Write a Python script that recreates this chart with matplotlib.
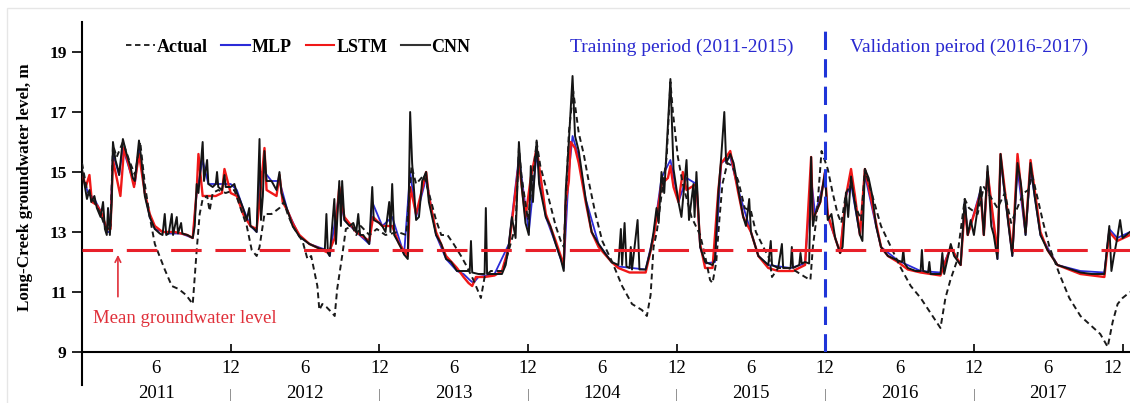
import matplotlib
matplotlib.use("Agg")
import matplotlib.pyplot as plt
from matplotlib.lines import Line2D
from matplotlib.patches import Rectangle
import matplotlib.transforms as mtransforms

plt.rcParams['font.family'] = ['Liberation Serif', 'DejaVu Serif']

# --- data: (month index since Jan 2011, groundwater level in m)
actual = [(0.0, 15.3), (0.4, 14.4), (1.0, 14.0), (1.5, 13.6), (2.0, 13.0), (2.3, 13.2), (2.5, 15.9),
          (2.8, 15.5), (3.3, 16.0), (3.8, 15.4), (4.27, 14.9), (4.7, 16.0), (5.07, 14.6), (5.47, 13.5),
          (5.88, 12.6), (6.68, 11.75), (7.25, 11.2), (7.8, 11.1), (8.4, 10.9), (8.94, 10.6), (9.26, 12.4),
          (9.5, 13.6), (9.74, 14.1), (10.1, 14.2), (10.3, 13.7), (10.55, 14.3), (11.0, 14.4), (11.6, 14.3),
          (12.3, 14.4), (12.72, 13.9), (13.3, 13.2), (13.7, 12.4), (14.1, 12.2), (14.33, 12.5), (14.73, 13.6),
          (15.3, 13.6), (15.94, 13.8), (16.3, 14.0), (16.6, 13.6), (17.0, 13.2), (17.55, 12.85), (17.8, 12.7),
          (18.2, 12.1), (18.5, 12.2), (19.0, 11.2), (19.16, 10.4), (19.4, 10.6), (19.73, 10.5), (20.2, 10.3),
          (20.4, 10.2), (20.6, 11.1), (21.0, 12.2), (21.3, 13.1), (21.8, 13.2), (22.14, 12.9), (22.5, 13.2),
          (23.2, 12.9), (23.8, 13.1), (24.5, 12.9), (25.5, 13.0), (26.17, 12.9), (26.6, 15.2), (26.97, 14.6),
          (27.6, 14.9), (28.0, 14.3), (28.58, 13.4), (29.0, 12.9), (29.5, 12.9), (30.0, 12.6), (30.6, 12.2),
          (31.0, 11.9), (31.6, 11.4), (32.0, 11.0), (32.2, 10.8), (32.5, 11.5), (33.0, 11.7), (34.0, 11.7),
          (34.46, 12.4), (35.0, 13.2), (35.27, 15.8), (35.5, 14.8), (36.0, 13.4), (36.7, 16.0), (37.0, 15.2),
          (37.44, 14.5), (38.24, 13.2), (38.65, 12.7), (38.9, 12.5), (39.05, 14.0), (39.3, 16.3), (39.65, 17.7),
          (40.1, 16.3), (40.5, 15.6), (40.9, 14.7), (41.45, 13.6), (42.0, 12.7), (42.8, 12.0), (43.6, 11.2),
          (44.4, 10.6), (45.2, 10.4), (45.6, 10.2), (45.9, 10.9), (46.14, 12.5), (46.4, 13.0), (46.8, 14.3),
          (47.2, 15.5), (47.5, 18.0), (47.7, 17.0), (48.1, 15.5), (48.5, 14.6), (49.2, 13.5), (49.9, 12.9),
          (50.3, 12.2), (50.7, 11.4), (50.9, 11.3), (51.2, 12.0), (51.45, 13.4), (51.7, 14.6), (52.1, 15.3),
          (52.5, 15.2), (52.98, 14.7), (53.5, 13.8), (54.0, 13.7), (54.4, 13.0), (55.0, 12.5), (55.5, 12.1),
          (55.7, 11.5), (56.2, 11.8), (57.0, 11.8), (57.6, 11.7), (58.37, 11.5), (58.8, 11.4), (59.0, 12.5),
          (59.3, 13.5), (59.7, 15.7), (60.2, 15.1), (60.6, 14.3), (61.0, 13.6), (61.3, 13.3), (61.67, 14.3),
          (62.1, 14.6), (62.5, 13.8), (62.9, 13.4), (63.2, 15.1), (63.6, 14.5), (64.5, 13.2), (65.3, 12.5),
          (66.1, 11.8), (66.9, 11.2), (67.7, 10.8), (68.5, 10.3), (69.3, 9.8), (69.7, 10.8), (70.1, 11.4),
          (70.6, 12.0), (71.26, 14.1), (71.6, 13.8), (72.3, 13.6), (72.8, 14.5), (73.3, 14.2), (73.9, 13.8),
          (74.5, 14.3), (75.0, 13.3), (75.5, 13.8), (76.0, 14.3), (76.4, 14.4), (76.7, 14.9), (77.1, 14.2),
          (77.6, 13.3), (78.1, 12.5), (78.9, 11.6), (79.7, 10.8), (80.6, 10.2), (81.4, 9.9), (82.2, 9.6),
          (82.8, 9.17), (83.2, 10.0), (83.6, 10.6), (84.0, 10.8), (84.6, 11.0)]

mlp = [(0.0, 14.9), (0.5, 14.3), (1.0, 14.1), (1.5, 13.7), (2.0, 13.0), (2.25, 13.0), (2.5, 15.6), (3.0, 14.9),
       (3.3, 15.8), (3.9, 15.0), (4.27, 14.6), (4.6, 15.8), (5.07, 14.3), (5.47, 13.5), (5.88, 13.1), (7.0, 12.95),
       (8.0, 12.95), (8.94, 12.8), (9.26, 14.3), (9.74, 15.4), (10.2, 14.6), (11.0, 14.6), (12.0, 14.6),
       (12.5, 14.4), (13.0, 13.8), (13.6, 13.2), (14.1, 13.0), (14.33, 15.0), (14.73, 15.0), (15.3, 14.7),
       (15.94, 14.7), (16.6, 13.7), (17.55, 12.85), (18.36, 12.6), (19.73, 12.4), (20.0, 12.2), (20.77, 14.3),
       (21.18, 13.4), (22.14, 13.0), (23.19, 12.6), (23.43, 14.0), (24.24, 13.2), (25.04, 13.5), (26.0, 12.25),
       (26.49, 15.0), (26.97, 13.5), (27.78, 14.8), (28.58, 12.9), (29.39, 12.1), (30.27, 11.7), (30.8, 11.6),
       (31.3, 11.4), (31.6, 11.3), (32.0, 11.5), (33.3, 11.6), (34.46, 12.6), (35.27, 15.5), (36.07, 13.0),
       (36.7, 15.6), (37.44, 13.5), (38.24, 12.6), (38.89, 11.8), (39.3, 15.0), (39.6, 16.2), (40.1, 15.5),
       (40.66, 14.1), (41.7, 12.6), (42.75, 12.0), (43.3, 11.85), (45.5, 11.75), (46.14, 12.9), (46.78, 14.8),
       (47.5, 15.4), (48.15, 14.0), (48.8, 14.8), (49.6, 14.6), (49.9, 12.5), (50.3, 11.95), (51.1, 12.0),
       (51.6, 15.3), (52.33, 15.5), (52.98, 14.4), (54.0, 13.0), (54.6, 12.2), (55.4, 11.9), (57.2, 11.8),
       (58.37, 11.95), (58.86, 14.8), (59.18, 13.6), (59.98, 14.8), (60.2, 13.5), (60.8, 12.8), (61.2, 12.3),
       (61.67, 14.2), (62.08, 14.6), (62.8, 12.9), (63.2, 14.9), (64.1, 13.2), (64.5, 12.5), (65.86, 12.05),
       (67.7, 11.7), (69.3, 11.65), (70.13, 12.5), (70.93, 11.9), (71.26, 14.0), (71.5, 12.9), (72.54, 14.4),
       (72.8, 12.9), (73.1, 15.0), (73.9, 12.1), (74.15, 15.4), (75.1, 12.2), (75.52, 15.1), (76.17, 12.9),
       (76.57, 15.1), (77.37, 12.9), (78.74, 11.9), (80.6, 11.7), (82.53, 11.65), (82.93, 13.1), (83.57, 12.8),
       (84.6, 13.0)]

lstm = [(0.0, 15.0), (0.3, 14.5), (0.6, 14.9), (0.8, 14.0), (1.2, 13.9), (1.6, 13.6), (2.0, 13.1), (2.3, 13.1),
        (2.5, 15.4), (2.9, 14.6), (3.1, 14.2), (3.4, 15.8), (3.8, 15.2), (4.2, 14.5), (4.6, 15.6), (5.07, 14.3),
        (5.47, 13.6), (5.88, 13.2), (6.5, 13.0), (7.5, 13.0), (8.5, 12.9), (8.94, 12.8), (9.26, 14.4),
        (9.4, 15.6), (9.74, 14.2), (10.2, 14.2), (10.8, 14.2), (11.3, 14.3), (11.5, 15.1), (12.0, 14.3),
        (12.5, 14.2), (13.0, 13.6), (13.6, 13.2), (14.1, 13.1), (14.33, 14.0), (14.73, 15.8), (14.9, 14.4),
        (15.3, 14.3), (15.7, 14.2), (15.94, 14.9), (16.2, 14.0), (16.6, 13.7), (17.0, 13.3), (17.55, 12.9),
        (18.36, 12.6), (19.16, 12.45), (19.9, 12.3), (20.4, 12.8), (20.77, 14.5), (21.18, 13.5), (22.14, 13.0),
        (23.19, 12.7), (23.5, 13.5), (24.24, 13.2), (25.04, 13.2), (25.6, 12.6), (26.3, 12.2), (26.5, 14.5),
        (26.97, 13.6), (27.5, 14.5), (27.78, 15.0), (28.0, 14.2), (28.58, 13.0), (29.39, 12.2), (30.27, 11.8),
        (30.8, 11.5), (31.2, 11.3), (31.5, 11.2), (31.8, 11.5), (32.5, 11.5), (33.3, 11.55), (33.9, 11.7),
        (34.46, 12.5), (35.27, 15.3), (35.8, 13.5), (36.23, 14.8), (36.7, 15.8), (37.44, 13.6), (38.24, 12.7),
        (38.89, 11.9), (39.05, 14.0), (39.3, 14.7), (39.45, 16.0), (39.8, 15.8), (40.1, 15.3), (40.66, 14.0),
        (41.14, 13.0), (41.7, 12.5), (42.75, 12.0), (43.3, 11.8), (44.2, 11.65), (45.5, 11.65), (46.14, 12.8),
        (46.78, 14.6), (47.3, 14.8), (47.5, 15.2), (47.75, 14.5), (48.15, 14.0), (48.5, 15.0), (48.8, 14.4),
        (49.6, 14.6), (49.9, 12.6), (50.3, 11.8), (50.9, 11.8), (51.37, 14.4), (51.6, 15.3), (52.0, 15.5),
        (52.33, 15.7), (52.98, 14.3), (53.38, 13.5), (54.0, 13.0), (54.6, 12.2), (55.4, 11.8), (56.2, 11.7),
        (57.4, 11.7), (58.37, 11.9), (58.86, 15.5), (59.0, 13.4), (59.6, 14.0), (59.98, 15.0), (60.2, 13.6),
        (60.8, 12.8), (61.2, 12.3), (61.67, 14.2), (62.08, 15.1), (62.4, 14.2), (62.8, 12.9), (63.2, 15.1),
        (63.5, 14.5), (64.1, 13.3), (64.5, 12.5), (65.06, 12.2), (65.86, 12.0), (66.67, 11.75), (67.7, 11.65),
        (69.3, 11.55), (70.13, 12.5), (70.93, 11.9), (71.26, 13.8), (71.5, 12.9), (72.54, 14.3), (72.8, 12.9),
        (73.1, 15.0), (73.9, 12.3), (74.15, 15.6), (75.1, 12.3), (75.52, 15.6), (76.17, 13.0), (76.57, 15.4),
        (77.37, 13.0), (77.94, 12.4), (78.74, 11.9), (80.6, 11.6), (82.53, 11.5), (82.93, 13.0), (83.57, 12.7),
        (84.6, 12.9)]

cnn = [(0.0, 15.1), (0.2, 14.6), (0.4, 14.1), (0.6, 14.4), (0.75, 14.0), (1.0, 14.2), (1.2, 13.8), (1.5, 13.5),
       (1.7, 14.0), (1.85, 13.1), (2.0, 12.9), (2.1, 13.8), (2.25, 12.9), (2.4, 14.0), (2.5, 16.0), (2.7, 15.4),
       (2.9, 15.1), (3.0, 14.9), (3.3, 16.1), (3.6, 15.6), (3.9, 15.2), (4.1, 14.8), (4.27, 14.7), (4.6, 16.05),
       (4.8, 15.4), (5.07, 14.2), (5.47, 13.5), (5.88, 13.1), (6.28, 12.95), (6.5, 12.9), (6.68, 13.6),
       (6.8, 12.9), (7.0, 12.95), (7.25, 13.6), (7.35, 12.9), (7.65, 13.5), (7.75, 12.95), (8.0, 13.3),
       (8.1, 12.95), (8.5, 12.9), (8.94, 12.8), (9.1, 13.2), (9.26, 14.6), (9.4, 14.3), (9.74, 16.0),
       (9.85, 14.7), (10.1, 15.4), (10.2, 14.6), (10.55, 14.5), (10.8, 14.6), (10.9, 15.0), (11.0, 14.5),
       (11.3, 14.4), (11.5, 14.9), (11.6, 14.5), (12.0, 14.5),
       (12.3, 14.6), (12.5, 14.3), (12.72, 14.1), (13.0, 13.8), (13.3, 13.4), (13.5, 13.8), (13.6, 13.2),
       (13.9, 13.1), (14.1, 13.0), (14.33, 16.1), (14.45, 13.4), (14.6, 14.2), (14.73, 15.7), (14.9, 14.7),
       (15.3, 14.7), (15.7, 14.4), (15.94, 15.0), (16.1, 14.3), (16.6, 13.7), (17.0, 13.2), (17.55, 12.85),
       (18.36, 12.6), (19.16, 12.45), (19.6, 12.4), (19.73, 13.6), (19.85, 12.3), (20.0, 12.2), (20.37, 14.1),
       (20.5, 12.6), (20.77, 14.7), (20.9, 13.2), (21.0, 14.7), (21.18, 13.4), (21.6, 13.2), (21.9, 13.3),
       (22.14, 13.0), (22.3, 13.6), (22.45, 12.9), (22.7, 12.9), (23.19, 12.6), (23.43, 14.5), (23.55, 13.4),
       (24.0, 13.3), (24.24, 13.2),
       (24.5, 13.0), (24.8, 14.0), (24.9, 13.0), (25.04, 14.6), (25.2, 12.9), (25.6, 12.6), (26.0, 12.25),
       (26.3, 12.1), (26.49, 17.0), (26.65, 15.3), (26.97, 13.4), (27.2, 13.5), (27.46, 14.7), (27.78, 15.0),
       (28.0, 14.0), (28.58, 12.9), (29.0, 12.6), (29.39, 12.1), (29.8, 12.0), (30.27, 11.7), (30.8, 11.7),
       (31.3, 11.7), (31.4, 12.7), (31.5, 11.65), (32.0, 11.6), (32.5, 11.6), (32.6, 13.8), (32.7, 11.6),
       (33.3, 11.6), (33.9, 11.6), (34.2, 11.9), (34.46, 12.6), (34.7, 13.5), (35.0, 12.8), (35.27, 16.0),
       (35.5, 14.5), (35.8, 13.3), (36.07, 12.9), (36.23, 15.2), (36.4, 14.0), (36.7, 16.05), (36.9, 14.6),
       (37.44, 13.5), (37.8, 13.2), (38.24, 12.6), (38.65, 12.1), (38.89, 11.7), (39.05, 14.4), (39.3, 16.0),
       (39.6, 18.2), (39.8, 16.2), (40.1, 15.7),
       (40.66, 14.1), (41.14, 13.0), (41.7, 12.6), (42.2, 12.3), (42.75, 12.0), (43.3, 11.9), (43.5, 13.1),
       (43.6, 11.9), (43.8, 13.3), (43.95, 11.85), (44.2, 11.8), (44.3, 12.5), (44.4, 11.75), (44.85, 13.4),
       (45.0, 11.75), (45.5, 11.75), (45.9, 12.4), (46.14, 13.0), (46.38, 13.8), (46.55, 13.3), (46.78, 15.0),
       (47.0, 14.3), (47.5, 18.1), (47.75, 15.1), (48.15, 14.0), (48.39, 13.5), (48.8, 15.4), (49.0, 13.4),
       (49.36, 14.6), (49.45, 13.5), (49.6, 15.0), (49.9, 12.5), (50.3, 12.0), (50.9, 11.9), (51.1, 12.1),
       (51.37, 14.3), (51.6, 15.5), (51.85, 17.0), (52.0, 15.3), (52.33, 15.6), (52.6, 15.3), (52.98, 14.4),
       (53.38, 13.5), (53.6, 13.2), (53.86, 14.1), (54.0, 13.0), (54.6, 12.2), (55.4, 11.9), (55.6, 12.7),
       (55.7, 11.9), (56.2, 11.8), (56.5, 12.6), (56.6, 11.8), (57.2, 11.8), (57.3, 12.5), (57.4, 11.8),
       (57.9, 11.9), (58.0, 12.3), (58.1, 11.95), (58.37, 12.0), (58.7, 11.95), (58.86, 15.5), (59.0, 13.2),
       (59.18, 13.6), (59.6, 14.0), (59.98, 15.0), (60.2, 13.4),
       (60.5, 13.6), (60.8, 12.8), (61.2, 12.3), (61.4, 12.5), (61.67, 14.3), (61.85, 13.5), (62.08, 14.85),
       (62.4, 13.9), (62.8, 12.9), (63.0, 12.7), (63.2, 15.1), (63.5, 14.8), (63.8, 14.2), (64.1, 13.2),
       (64.5, 12.5), (65.06, 12.2), (65.86, 12.05), (66.2, 12.0), (66.3, 12.4), (66.4, 11.95), (66.67, 11.8),
       (67.3, 11.7), (67.7, 11.7), (67.8, 12.4), (67.9, 11.7), (68.3, 11.65), (68.4, 12.0), (68.5, 11.6),
       (69.3, 11.6), (69.45, 12.3), (69.6, 11.6), (70.13, 12.6), (70.4, 12.2), (70.93, 11.9), (71.26, 14.1),
       (71.5, 12.9), (71.74, 13.4), (72.0, 12.9), (72.2, 13.5), (72.54, 14.5), (72.8, 12.9), (73.1, 15.2),
       (73.4, 13.2), (73.6, 12.9), (73.9, 12.1), (74.15, 15.6), (74.4, 14.6), (74.8, 13.2), (75.1, 12.2),
       (75.52, 15.3), (75.8, 14.6), (76.17, 12.9), (76.57, 15.3), (76.9, 14.2), (77.37, 12.9), (77.94, 12.4),
       (78.74, 11.9), (79.5, 11.8), (80.6, 11.65), (81.5, 11.6), (82.53, 11.6), (82.93, 13.2), (83.1, 11.7),
       (83.3, 12.2), (83.57, 12.8), (83.8, 13.4), (84.0, 12.8), (84.6, 13.0)]

mean_level = 12.4
split_month = 60
years = ['2011', '2012', '2013', '1204', '2015', '2016', '2017']

# --- figure
fig = plt.figure(figsize=(11.3, 4.03), dpi=100)
fig.patches.append(Rectangle((0.006, -0.01), 1.0, 0.99, transform=fig.transFigure,
                             fill=False, edgecolor='#e6e6e6', lw=1))
ax = fig.add_axes([82/1130, 51/403, 1048/1130, 330/403])

ax.plot(*zip(*mlp), color='#2b2bd8', lw=1.3, zorder=2)
ax.plot(*zip(*lstm), color='#f01818', lw=1.7, zorder=3)
ax.plot(*zip(*cnn), color='#141414', lw=1.4, zorder=4)
ax.plot(*zip(*actual), color='#1a1a1a', lw=1.4, dashes=(3, 2), zorder=5)

ax.axhline(mean_level, color='#e8202a', lw=2.2, dashes=(10, 4.5), zorder=6)
ax.axvline(split_month, color='#1f35d8', lw=2.2, dashes=(6, 3), zorder=6)

ax.set_xlim(0, 84.6)
ax.set_ylim(9, 20)
ax.set_yticks([9, 11, 13, 15, 17, 19])
for lab in ax.get_yticklabels():
    lab.set_fontweight('bold')
ax.tick_params(axis='y', labelsize=12.5, direction='out', length=7, width=1.2, pad=4)

ax.set_xticks(range(12, 85, 12))
ax.set_xticklabels(['12'] * 7)
ax.set_xticks(range(6, 85, 12), minor=True)
ax.set_xticklabels(['6'] * 7, minor=True)
ax.tick_params(axis='x', which='major', direction='in', length=6, width=1.2, labelsize=13.5, pad=6)
ax.tick_params(axis='x', which='minor', length=0, labelsize=13.5, pad=6)
ax.get_xticklabels()[-1].set_horizontalalignment('right')

for s in ['top', 'right']:
    ax.spines[s].set_visible(False)
ax.spines['left'].set_linewidth(1.5)
ax.spines['bottom'].set_linewidth(1.5)
ax.plot([0, 0], [0, -0.1], transform=ax.transAxes, color='black', lw=1.5, clip_on=False)

trans = mtransforms.blended_transform_factory(ax.transData, ax.transAxes)
for i, yr in enumerate(years):
    ax.text(6 + 12 * i, -0.125, yr, transform=trans, ha='center', va='center', fontsize=13.5)
    if i < 6:
        ax.text(12 + 12 * i, -0.13, '|', transform=trans, ha='center', va='center',
                fontsize=9, color='#555555')

ax.set_ylabel('Long-Creek groundwater level, m', fontsize=12.3, fontweight='bold', labelpad=12)

# --- legend
handles = [Line2D([], [], color='#1a1a1a', lw=1.3, dashes=(3, 2)),
           Line2D([], [], color='#2b2bd8', lw=1.5),
           Line2D([], [], color='#f01818', lw=1.5),
           Line2D([], [], color='#333333', lw=1.5)]
fig.legend(handles, ['Actual', 'MLP', 'LSTM', 'CNN'], loc='center left',
           bbox_to_anchor=(117/1130, 1 - 47/403), ncol=4, frameon=False,
           prop={'weight': 'bold', 'size': 13}, handlelength=1.6, handletextpad=0.1,
           columnspacing=0.75, borderpad=0)

# --- annotations
ax.text(48.4, 19.15, 'Training period (2011-2015)', color='#2a2ad0', fontsize=14,
        ha='center', va='center')
ax.text(71.6, 19.15, 'Validation peirod (2016-2017)', color='#2a2ad0', fontsize=14,
        ha='center', va='center')
ax.annotate('', xy=(2.9, 12.33), xytext=(2.9, 10.75),
            arrowprops=dict(arrowstyle='->', color='#e0303a', lw=1.2))
ax.text(0.9, 10.13, 'Mean groundwater level', color='#e0303a', fontsize=13.5,
        ha='left', va='center')

fig.savefig('out.png', dpi=100)
